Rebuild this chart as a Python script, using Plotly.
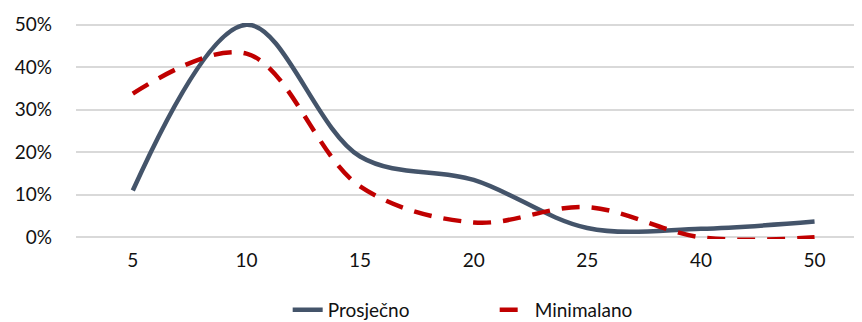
import plotly.graph_objects as go

categories = ["5", "10", "15", "20", "25", "40", "50"]
prosjecno = [0.11, 0.50, 0.19, 0.135, 0.022, 0.02, 0.037]
minimalano = [0.338, 0.432, 0.12, 0.035, 0.071, 0.0, 0.0]
y_ticks = [0, 0.1, 0.2, 0.3, 0.4, 0.5]
y_labels = ["0%", "10%", "20%", "30%", "40%", "50%"]

font_family = "Lato, 'Open Sans', sans-serif"

fig = go.Figure()
fig.add_trace(go.Scatter(
    x=categories, y=prosjecno, name="Prosječno", mode="lines",
    line=dict(color="#44546A", width=4.5, shape="spline", smoothing=1.0),
))
fig.add_trace(go.Scatter(
    x=categories, y=minimalano, name="Minimalano", mode="lines",
    line=dict(color="#C00000", width=4.5, shape="spline", smoothing=1.0, dash="18px,12px"),
))

fig.update_layout(
    width=854, height=314,
    margin=dict(l=68, r=1.5, t=15, b=83, autoexpand=False),
    paper_bgcolor="white", plot_bgcolor="white",
    font=dict(family=font_family, size=19, color="#111111"),
    showlegend=True,
    legend=dict(orientation="h", x=0.27, xanchor="left", y=-0.24, yanchor="top",
                font=dict(size=19), entrywidth=162, entrywidthmode="pixels",
                traceorder="normal"),
    xaxis=dict(type="category", range=[-0.5, 6.4], showgrid=False, zeroline=False,
               showline=False, ticks="", ticklabelstandoff=8, automargin=False),
    yaxis=dict(range=[-0.004, 0.504], tickvals=y_ticks, ticktext=y_labels,
               showgrid=True, gridcolor="#D9D9D9", gridwidth=1.5, zeroline=False,
               showline=False, ticks="", ticklabelstandoff=23, automargin=False),
)

fig.write_html("out.html")
